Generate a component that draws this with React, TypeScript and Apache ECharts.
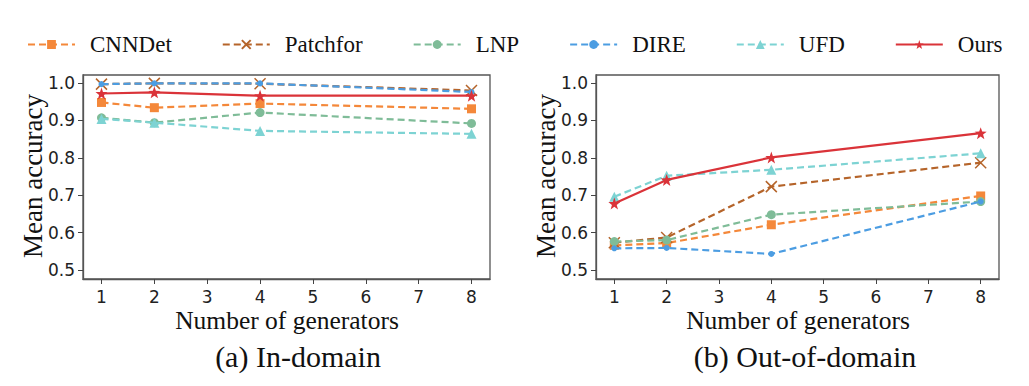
import React, { useEffect, useRef } from "react";
import * as echarts from "echarts";

const generators = [1, 2, 4, 8];
const xTicks = [1, 2, 3, 4, 5, 6, 7, 8];
const yTicks = [0.5, 0.6, 0.7, 0.8, 0.9, 1.0];
const methodNames = ["CNNDet", "Patchfor", "LNP", "DIRE", "UFD", "Ours"];

// In-domain
const inCNNDet = [0.948, 0.934, 0.945, 0.931];
const inPatchfor = [0.997, 0.999, 0.998, 0.98];
const inLNP = [0.907, 0.894, 0.921, 0.892];
const inDIRE = [0.997, 0.999, 0.999, 0.976];
const inUFD = [0.904, 0.894, 0.872, 0.864];
const inOurs = [0.972, 0.975, 0.966, 0.966];

// Out-of-domain
const outCNNDet = [0.566, 0.572, 0.621, 0.698];
const outPatchfor = [0.573, 0.587, 0.723, 0.787];
const outLNP = [0.576, 0.58, 0.648, 0.683];
const outDIRE = [0.558, 0.559, 0.543, 0.683];
const outUFD = [0.696, 0.752, 0.768, 0.812];
const outOurs = [0.678, 0.741, 0.801, 0.866];

const inData = [inCNNDet, inPatchfor, inLNP, inDIRE, inUFD, inOurs];
const outData = [outCNNDet, outPatchfor, outLNP, outDIRE, outUFD, outOurs];

const colors = ["#F4883A", "#B5642A", "#7FBC98", "#4C9DE2", "#7DD3D3", "#DA3339"];
const STAR =
  "path://M50 0L61.76 33.82L97.55 34.55L69.02 56.18L79.39 90.45L50 70L20.61 90.45L30.98 56.18L2.45 34.55L38.24 33.82Z";
const XMARK = "path://M0 0L10 10M10 0L0 10";
const symbols = ["rect", XMARK, "circle", "circle", "triangle", STAR];
const symbolSizes = [9, 11, 9, 6, 10, 12];
const dashed = [true, true, true, true, true, false];

const serif = "Liberation Serif, Times New Roman, serif";
const sans = "DejaVu Sans, sans-serif";

export default function App() {
  const ref = useRef<HTMLDivElement>(null);
  useEffect(() => {
    if (!ref.current) return;
    const chart = echarts.init(ref.current, null, { renderer: "svg" });

    const grids = [
      { left: 83, top: 75, width: 407, height: 204 },
      { left: 596, top: 75, width: 403, height: 204 },
    ];

    const xAxes = grids.map((_, i) => ({
      type: "value",
      gridIndex: i,
      min: 0.65,
      max: 8.35,
      splitLine: { show: false },
      axisLine: { show: true, lineStyle: { color: "#555", width: 1.3 } },
      axisTick: {
        show: true,
        inside: false,
        length: 5,
        customValues: xTicks,
        lineStyle: { color: "#444", width: 1 },
      },
      axisLabel: {
        customValues: xTicks,
        margin: 9,
        fontFamily: sans,
        fontSize: 17,
        color: "#222",
        formatter: (v: number) => String(v),
      },
    }));

    const yAxes = grids.map((_, i) => ({
      type: "value",
      gridIndex: i,
      min: 0.476,
      max: 1.0214,
      splitLine: { show: false },
      axisLine: { show: true, lineStyle: { color: "#555", width: 1.3 } },
      axisTick: {
        show: true,
        inside: false,
        length: 5,
        customValues: yTicks,
        lineStyle: { color: "#444", width: 1 },
      },
      axisLabel: {
        customValues: yTicks,
        margin: 8,
        fontFamily: sans,
        fontSize: 17,
        color: "#222",
        formatter: (v: number) => v.toFixed(1),
      },
    }));

    const makeSeries = (data: number[][], gi: number) =>
      methodNames.map((name, k) => ({
        name,
        type: "line",
        xAxisIndex: gi,
        yAxisIndex: gi,
        data: generators.map((g, j) => [g, data[k][j]]),
        symbol: symbols[k],
        symbolSize: symbolSizes[k],
        showSymbol: true,
        z: 2 + k,
        lineStyle: {
          color: colors[k],
          width: 2.2,
          type: dashed[k] ? [7, 4] : "solid",
        },
        itemStyle: {
          color: colors[k],
          borderColor: colors[k],
          borderWidth: k === 1 ? 1.5 : 0,
        },
        emphasis: { disabled: true },
      }));

    const textStyleTitle = (fs: number) => ({
      fontFamily: serif,
      fontSize: fs,
      fill: "#111",
      textAlign: "center",
      textVerticalAlign: "middle",
    });

    const option: any = {
      animation: false,
      backgroundColor: "#fff",
      legend: {
        data: methodNames,
        left: 22,
        top: 28,
        itemWidth: 47,
        itemHeight: 11,
        itemGap: 50,
        textStyle: {
          fontFamily: serif,
          fontSize: 23,
          color: "#111",
          padding: [0, 0, 0, 10],
        },
      },
      grid: grids.map((g) => ({
        ...g,
        show: true,
        borderColor: "#555",
        borderWidth: 1.3,
        backgroundColor: "transparent",
      })),
      xAxis: xAxes,
      yAxis: yAxes,
      series: [...makeSeries(inData, 0), ...makeSeries(outData, 1)],
      graphic: [
        {
          type: "text",
          x: 287,
          y: 320,
          style: { text: "Number of generators", ...textStyleTitle(25.5) },
        },
        {
          type: "text",
          x: 798,
          y: 320,
          style: { text: "Number of generators", ...textStyleTitle(25.5) },
        },
        {
          type: "text",
          x: 33,
          y: 176,
          rotation: Math.PI / 2,
          style: { text: "Mean accuracy", ...textStyleTitle(27) },
        },
        {
          type: "text",
          x: 546,
          y: 176,
          rotation: Math.PI / 2,
          style: { text: "Mean accuracy", ...textStyleTitle(27) },
        },
        {
          type: "text",
          x: 298,
          y: 356,
          style: { text: "(a) In-domain", ...textStyleTitle(30) },
        },
        {
          type: "text",
          x: 805,
          y: 356,
          style: { text: "(b) Out-of-domain", ...textStyleTitle(30) },
        },
      ],
    };

    chart.setOption(option);
    return () => chart.dispose();
  }, []);

  return (
    <div
      ref={ref}
      style={{ position: "fixed", left: 0, top: 0, width: 1029, height: 386 }}
    />
  );
}
